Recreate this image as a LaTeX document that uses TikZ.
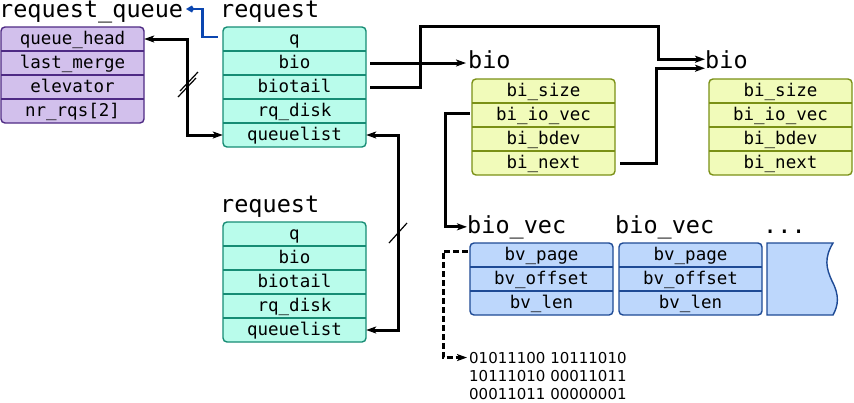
\documentclass[tikz,border=0pt]{standalone}
\usepackage{fontspec}
\setmainfont{DejaVu Sans}
\newfontfamily\dvmono{DejaVu Sans Mono}
\usetikzlibrary{arrows.meta,calc}
\definecolor{qfill}{HTML}{D2C0EC}
\definecolor{qdraw}{HTML}{4E2A84}
\definecolor{rfill}{HTML}{B9FCEB}
\definecolor{rdraw}{HTML}{168C74}
\definecolor{bfill}{HTML}{F1FBBA}
\definecolor{bdraw}{HTML}{7A9016}
\definecolor{vfill}{HTML}{BDD7FC}
\definecolor{vdraw}{HTML}{1E4A95}
\definecolor{lblue}{HTML}{0B46B0}
\tikzset{
  field/.style={minimum width=143pt, minimum height=24pt, inner sep=0pt,
    font=\fontsize{17.5}{20}\dvmono, text height=14pt, text depth=4pt},
  title/.style={anchor=base west, inner sep=0pt, font=\fontsize{23.5}{28}\dvmono},
  bintext/.style={anchor=base west, inner sep=0pt, font=\fontsize{15}{18}\selectfont},
  conn/.style={line width=3pt, -{Stealth[length=10pt,width=7pt,inset=2.5pt]}},
  biconn/.style={line width=3pt, {Stealth[length=10pt,width=7pt,inset=2.5pt]}-{Stealth[length=10pt,width=7pt,inset=2.5pt]}},
  slash/.style={line width=1.2pt},
}
\newcommand\structbox[7]{%
  \fill[#5, rounded corners=4pt] (#2,#3) rectangle ++(143,{#4*24});
  \foreach \j in {2,...,#4} {\draw[#6, line width=1.4pt] (#2,{#3+(\j-1)*24}) -- ++(143,0);}
  \draw[#6, line width=1.4pt, rounded corners=4pt] (#2,#3) rectangle ++(143,{#4*24});
  \foreach \t [count=\i] in {#7} {
    \node[field] (#1-\i) at ({#2+71.5},{#3+\i*24-12}) {\t};
  }%
}
\begin{document}
\begin{tikzpicture}[x=1pt,y=-1pt]
\useasboundingbox (0,0) rectangle (854,402);

% titles
\node[title] (tq) at (-1,17) {request\_queue};
\node[title] (tr1) at (220,17) {request};
\node[title] (tr2) at (220,212) {request};
\node[title] (tb1) at (468,68) {bio};
\node[title] (tb2) at (705,68) {bio};
\node[title] (tv1) at (467,233) {bio\_vec};
\node[title] (tv2) at (615,233) {bio\_vec};
\node[title] (tdots) at (763,233) {...};

% boxes
\structbox{q}{1}{27}{4}{qfill}{qdraw}{queue\_head,last\_merge,elevator,nr\_rqs[2]}
\structbox{ra}{223}{27}{5}{rfill}{rdraw}{q,bio,biotail,rq\_disk,queuelist}
\structbox{rb}{223}{222}{5}{rfill}{rdraw}{q,bio,biotail,rq\_disk,queuelist}
\structbox{ba}{472}{79}{4}{bfill}{bdraw}{bi\_size,bi\_io\_vec,bi\_bdev,bi\_next}
\structbox{bb}{709}{79}{4}{bfill}{bdraw}{bi\_size,bi\_io\_vec,bi\_bdev,bi\_next}
\structbox{va}{470}{243}{3}{vfill}{vdraw}{bv\_page,bv\_offset,bv\_len}
\structbox{vb}{619}{243}{3}{vfill}{vdraw}{bv\_page,bv\_offset,bv\_len}
\path[fill=vfill, draw=vdraw, line width=1.4pt] (767,243) -- (833,243)
  .. controls (824,258) and (826,268) .. (832,281)
  .. controls (840,296) and (838,306) .. (833,315) -- (767,315) -- cycle;

% binary text
\node[bintext] (bin1) at (469,363) {01011100 10111010};
\node[bintext] (bin2) at (469,381) {10111010 00011011};
\node[bintext] (bin3) at (469,399) {00011011 00000001};

% connectors
\coordinate (qend) at (186,9);
\draw[lblue, line width=2.8pt, -{Kite[length=8pt,width=7pt]}]
  ([xshift=-5pt,yshift=2pt]ra-1.west) -- ++(-15,0) |- (qend);

\draw[biconn] (q-1.east) -- ++(43,0) |- (ra-5.west);
\draw[slash] (178,97) -- (196,78);
\draw[slash] (180,91) -- (198,72);

\draw[biconn] (ra-5.east) -- ++(32,0) |- (rb-5.east);
\draw[slash] (389,243) -- (407,223);

\draw[conn] ([xshift=4pt]ra-2.east) -- ([xshift=-2pt]ra-2.east -| tb1.west);
\draw[conn] ([xshift=4pt]ra-3.east) -| (420,26) -| ([xshift=-47pt]tb2.west) -- ([xshift=0pt]tb2.west);
\draw[conn] ([xshift=5pt]ba-4.east) -| ([xshift=-49pt,yshift=-9pt]tb2.west) -- ([xshift=0pt,yshift=-9pt]tb2.west);

\draw[conn] ([xshift=-2pt,yshift=2pt]ba-2.west) -| ([xshift=-22pt]tv1.west) -- ([xshift=0pt]tv1.west);
\draw[conn, dash pattern=on 6pt off 3pt] ([xshift=-2pt,yshift=4pt]va-1.west) -| ([xshift=-26pt]bin1.west) -- ([xshift=-2pt]bin1.west);
\end{tikzpicture}
\end{document}
